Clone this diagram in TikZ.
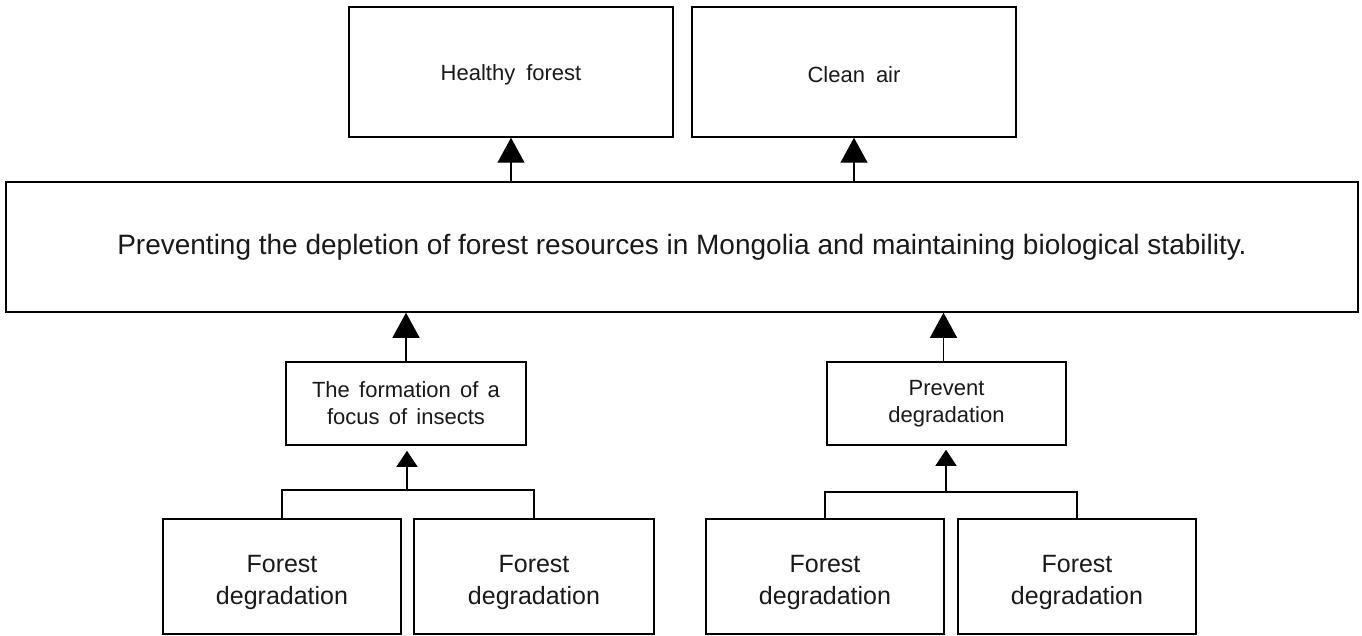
\documentclass[tikz,border=0pt]{standalone}
\usepackage{fontspec}
\setmainfont{Liberation Sans}
\usetikzlibrary{arrows.meta}
\newcommand\midfont{\fontsize{22}{27}\selectfont\spaceskip=0.42em\relax}
\begin{document}
\begin{tikzpicture}[x=1pt,y=-1pt,
  box/.style={draw=black,line width=1.5pt,rectangle,inner sep=0pt,align=center,text=black!90},
  goalbox/.style 2 args={box,minimum width=324pt,minimum height=130pt,
    label={[name=#1,text=black!90,yshift=-3pt,font=\fontsize{22}{26}\selectfont]center:{#2}}},
  midbox/.style={box,minimum width=240pt,minimum height=83pt,font=\midfont},
  rootbox/.style={box,minimum width=238pt,minimum height=115pt,
    label={[name=#1,align=center,text=black!90,yshift=-6pt,font=\fontsize{25}{32}\selectfont]center:{Forest\\degradation}}},
  bigarrow/.style={line width=1.2pt,-{Triangle[width=27pt,length=25pt]}},
  smallarrow/.style={line width=1.2pt,-{Triangle[width=21pt,length=16pt]}},
  link/.style={line width=1.2pt}]
\useasboundingbox (0,0) rectangle (1362,636);
% goals
\node[goalbox={hftext}{Healthy\hspace{0.5em}forest}] (hf) at (511,72) {};
\node[goalbox={catext}{Clean\hspace{0.5em}air}] (ca) at (854,72) {};
% central objective
\node[box,minimum width=1352pt,minimum height=130pt,font=\fontsize{28}{32}\selectfont] (main) at (682,247)
  {Preventing the depletion of forest resources in Mongolia and maintaining biological stability.};
% intermediate causes
\node[midbox] (ins) at (406,403.5) {The formation of a\\focus of insects};
\node[midbox,minimum width=239pt] (prev) at (946.5,403.5) {Prevent\\degradation};
% root causes
\node[rootbox=fd1text] (fd1) at (282,576.5) {};
\node[rootbox=fd2text,minimum width=240pt] (fd2) at (534,576.5) {};
\node[rootbox=fd3text] (fd3) at (825,576.5) {};
\node[rootbox=fd4text] (fd4) at (1077,576.5) {};
% junction points of the brackets
\coordinate (j1) at (407,490);
\coordinate (j2) at (946,492);
% connectors
\draw[bigarrow] (main.north -| hf.south) -- (hf.south);
\draw[bigarrow] (main.north -| ca.south) -- (ca.south);
\draw[bigarrow] (ins.north) -- (ins.north |- main.south);
\draw[bigarrow] ([xshift=-3pt]prev.north) -- ([xshift=-3pt]prev.north |- main.south);
\draw[link] (fd1.north) |- (j1) -| (fd2.north);
\draw[link] (fd3.north) |- (j2) -| (fd4.north);
\draw[smallarrow,shorten >=5pt] (j1) -- (j1 |- ins.south);
\draw[smallarrow,shorten >=4pt] (j2) -- (j2 |- prev.south);
\end{tikzpicture}
\end{document}
